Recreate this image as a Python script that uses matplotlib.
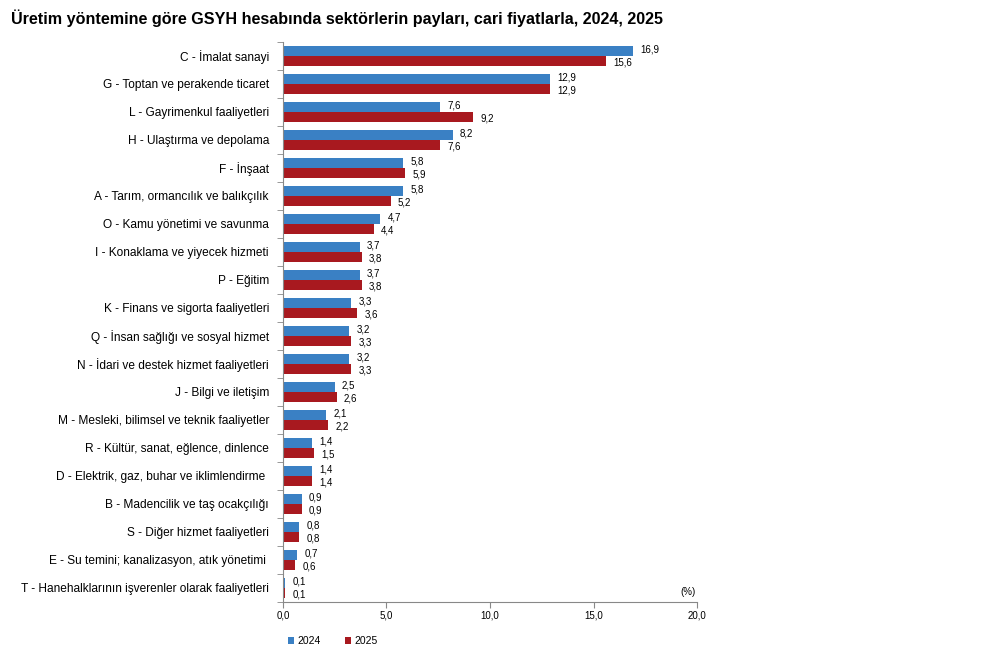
import numpy as np
import matplotlib
matplotlib.use('Agg')
import matplotlib.pyplot as plt
from matplotlib.ticker import FixedLocator

plt.rcParams['font.family'] = ['Liberation Sans', 'DejaVu Sans']

sectors = [
    'C - İmalat sanayi',
    'G - Toptan ve perakende ticaret',
    'L - Gayrimenkul faaliyetleri',
    'H - Ulaştırma ve depolama',
    'F - İnşaat',
    'A - Tarım, ormancılık ve balıkçılık',
    'O - Kamu yönetimi ve savunma',
    'I - Konaklama ve yiyecek hizmeti',
    'P - Eğitim',
    'K - Finans ve sigorta faaliyetleri',
    'Q - İnsan sağlığı ve sosyal hizmet',
    'N - İdari ve destek hizmet faaliyetleri',
    'J - Bilgi ve iletişim',
    'M - Mesleki, bilimsel ve teknik faaliyetler',
    'R - Kültür, sanat, eğlence, dinlence',
    'D - Elektrik, gaz, buhar ve iklimlendirme ',
    'B - Madencilik ve taş ocakçılığı',
    'S - Diğer hizmet faaliyetleri',
    'E - Su temini; kanalizasyon, atık yönetimi ',
    'T - Hanehalklarının işverenler olarak faaliyetleri',
]
v2024 = [16.9, 12.9, 7.6, 8.2, 5.8, 5.8, 4.7, 3.7, 3.7, 3.3, 3.2, 3.2, 2.5, 2.1, 1.4, 1.4, 0.9, 0.8, 0.7, 0.1]
v2025 = [15.6, 12.9, 9.2, 7.6, 5.9, 5.2, 4.4, 3.8, 3.8, 3.6, 3.3, 3.3, 2.6, 2.2, 1.5, 1.4, 0.9, 0.8, 0.6, 0.1]
x_ticks = [0, 5, 10, 15, 20]

c24 = '#3a80c4'
c25 = '#a8191f'

fig = plt.figure(figsize=(9.89, 6.59), dpi=100)
ax = fig.add_axes([0.286, 0.0865, 0.419, 0.85])

n = len(sectors)
y = np.arange(n)
h = 0.35
ax.barh(y - h / 2, v2024, height=h, color=c24, label='2024')
ax.barh(y + h / 2, v2025, height=h, color=c25, label='2025')

def fmt(v):
    return f'{v:.1f}'.replace('.', ',')

for yi, a, b in zip(y, v2024, v2025):
    ax.text(a + 0.35, yi - h / 2 - 0.05, fmt(a), fontsize=7, va='center', ha='left')
    ax.text(b + 0.35, yi + h / 2 + 0.05, fmt(b), fontsize=7, va='center', ha='left')

ax.set_ylim(n - 0.5, -0.5)
ax.set_xlim(0, 20)
ax.set_yticks(y)
ax.set_yticklabels(sectors, fontsize=8.6)
ax.yaxis.set_minor_locator(FixedLocator(np.arange(-0.5, n, 1)))
ax.tick_params(axis='y', which='major', length=0, pad=10)
ax.tick_params(axis='y', which='minor', length=4, color='#888888')
ax.set_xticks(x_ticks)
ax.set_xticklabels([f'{t:.1f}'.replace('.', ',') for t in x_ticks], fontsize=7)
ax.tick_params(axis='x', length=4, color='#888888', pad=2)

for s in ['top', 'right']:
    ax.spines[s].set_visible(False)
for s in ['left', 'bottom']:
    ax.spines[s].set_color('#888888')
    ax.spines[s].set_linewidth(0.8)

ax.text(19.9, n - 0.85, '(%)', fontsize=7, ha='right', va='center')

ax.legend(loc='upper left', bbox_to_anchor=(-0.01, -0.044), ncol=2, frameon=False,
          fontsize=7.5, handlelength=0.6, handleheight=0.6, columnspacing=2.3, handletextpad=0.3)

fig.text(0.011, 0.972, 'Üretim yöntemine göre GSYH hesabında sektörlerin payları, cari fiyatlarla, 2024, 2025',
         fontsize=11.6, fontweight='bold', ha='left', va='center')

fig.savefig('out.png', dpi=100, facecolor='white')
